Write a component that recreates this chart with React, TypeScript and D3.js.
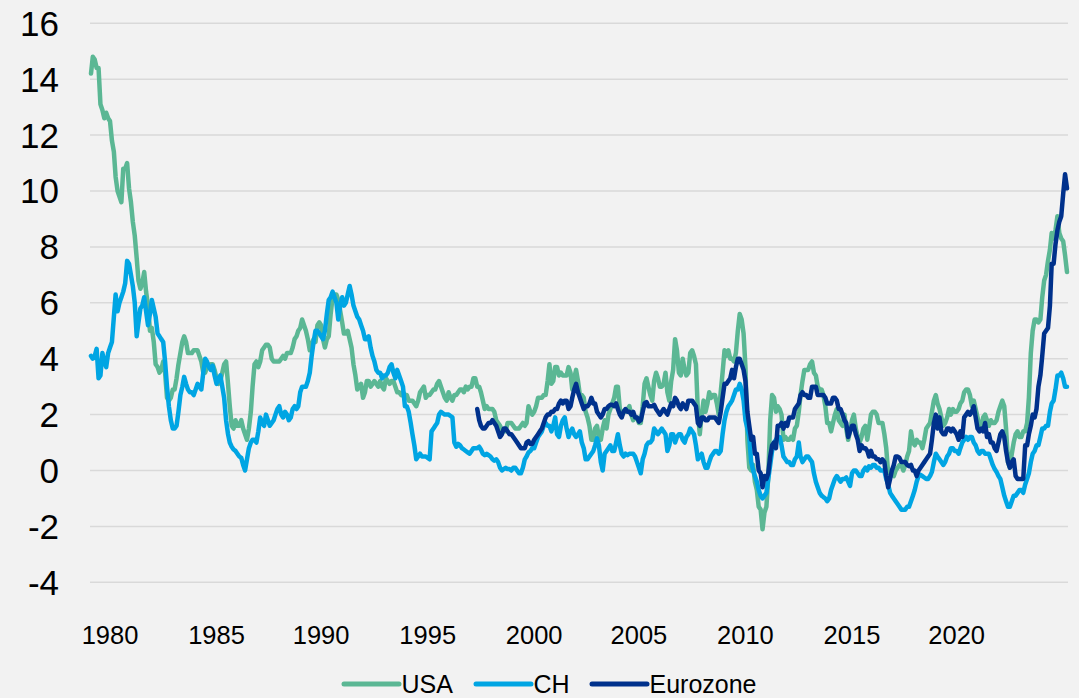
import React from "react";
import * as d3 from "d3";

// ---- Data (year-on-year inflation, %) ----
const seriesStart = "1980-02"; // first month of USA and CH
const euroStart = "1997-01"; // first month of Eurozone

const usa = [
  14.2, 14.8, 14.7, 14.4, 14.4, 13.1, 12.9, 12.6, 12.8, 12.6, 12.5,
  11.8, 11.4, 10.5, 10.0, 9.8, 9.6, 10.8, 10.8, 11.0, 10.1, 9.6, 8.9,
  8.4, 7.6, 6.8, 6.5, 6.7, 7.1, 6.4, 5.9, 5.0, 5.1, 4.6, 3.8,
  3.7, 3.5, 3.6, 3.9, 3.5, 2.6, 2.5, 2.6, 2.9, 2.9, 3.3, 3.8,
  4.2, 4.6, 4.8, 4.6, 4.2, 4.2, 4.2, 4.3, 4.3, 4.3, 4.1, 3.9,
  3.5, 3.5, 3.7, 3.7, 3.8, 3.8, 3.6, 3.3, 3.1, 3.2, 3.5, 3.8,
  3.9, 3.1, 2.3, 1.6, 1.5, 1.8, 1.6, 1.6, 1.8, 1.5, 1.3, 1.1,
  1.5, 2.1, 3.0, 3.8, 3.9, 3.7, 3.9, 4.3, 4.4, 4.5, 4.5, 4.4,
  4.0, 3.9, 3.9, 3.9, 3.9, 4.0, 4.1, 4.0, 4.2, 4.2, 4.2, 4.4,
  4.7, 4.8, 5.0, 5.1, 5.4, 5.2, 5.0, 4.7, 4.3, 4.5, 4.7, 4.6,
  5.2, 5.3, 5.2, 4.7, 4.4, 4.7, 4.8, 5.6, 6.2, 6.3, 6.3, 6.1,
  5.7, 5.3, 4.9, 4.9, 5.0, 4.7, 4.4, 3.8, 3.4, 2.9, 3.0, 3.1,
  2.6, 2.8, 3.2, 3.2, 3.0, 3.1, 3.2, 3.1, 3.0, 3.2, 3.0, 2.9,
  3.3, 3.2, 3.1, 3.2, 3.2, 3.0, 2.8, 2.8, 2.7, 2.8, 2.7, 2.7,
  2.5, 2.5, 2.5, 2.4, 2.3, 2.5, 2.8, 2.9, 3.0, 2.6, 2.7, 2.7,
  2.8, 2.9, 2.9, 3.1, 3.2, 3.0, 2.8, 2.6, 2.5, 2.8, 2.6, 2.5,
  2.7, 2.7, 2.8, 2.9, 2.9, 2.8, 3.0, 2.9, 3.0, 3.0, 3.3, 3.3,
  3.0, 3.0, 2.8, 2.5, 2.2, 2.3, 2.2, 2.2, 2.2, 2.1, 1.8, 1.7,
  1.6, 1.4, 1.4, 1.4, 1.7, 1.7, 1.7, 1.6, 1.5, 1.5, 1.5, 1.6,
  1.7, 1.6, 1.7, 2.3, 2.1, 2.0, 2.1, 2.3, 2.6, 2.6, 2.6, 2.7,
  2.7, 3.2, 3.8, 3.1, 3.2, 3.7, 3.7, 3.4, 3.5, 3.4, 3.4, 3.4,
  3.7, 3.5, 2.9, 3.3, 3.6, 3.2, 2.7, 2.7, 2.6, 2.1, 1.9, 1.6,
  1.1, 1.1, 1.5, 1.6, 1.2, 1.1, 1.5, 1.8, 1.5, 2.0, 2.2, 2.4,
  2.6, 3.0, 3.0, 2.2, 2.1, 2.1, 2.1, 2.2, 2.3, 2.0, 1.8, 1.9,
  1.9, 1.7, 1.7, 2.3, 3.1, 3.3, 3.0, 2.7, 2.5, 3.2, 3.5, 3.3,
  3.0, 3.0, 3.1, 3.5, 2.8, 2.5, 3.2, 3.6, 4.7, 4.3, 3.5, 3.4,
  4.0, 3.6, 3.4, 3.5, 4.2, 4.3, 4.1, 3.8, 2.1, 1.3, 2.0, 2.5,
  2.1, 2.4, 2.8, 2.6, 2.7, 2.7, 2.4, 2.0, 2.8, 3.5, 4.3, 4.1,
  4.3, 4.0, 4.0, 3.9, 4.2, 5.0, 5.6, 5.4, 4.9, 3.7, 1.1, 0.1,
  0.0, 0.2, -0.4, -0.7, -1.3, -1.4, -2.1, -1.5, -1.3, -0.2, 1.8, 2.7,
  2.6, 2.1, 2.3, 2.2, 2.0, 1.1, 1.2, 1.1, 1.1, 1.2, 1.1, 1.5,
  1.6, 2.1, 2.7, 3.2, 3.6, 3.6, 3.6, 3.8, 3.9, 3.5, 3.4, 3.0,
  2.9, 2.9, 2.7, 2.3, 1.7, 1.7, 1.4, 1.7, 2.0, 2.2, 1.8, 1.7,
  1.6, 2.0, 1.5, 1.1, 1.4, 1.8, 2.0, 1.5, 1.2, 1.0, 1.2, 1.5,
  1.6, 1.1, 1.5, 2.0, 2.1, 2.1, 2.0, 1.7, 1.7, 1.7, 1.3, 0.8,
  -0.1, 0.0, -0.1, -0.2, 0.0, 0.1, 0.2, 0.2, 0.0, 0.2, 0.5, 0.7,
  1.4, 1.0, 0.9, 1.1, 1.0, 1.0, 0.8, 1.1, 1.5, 1.6, 1.7, 2.1,
  2.5, 2.7, 2.4, 2.2, 1.9, 1.6, 1.7, 1.9, 2.2, 2.0, 2.2, 2.1,
  2.1, 2.2, 2.4, 2.5, 2.8, 2.9, 2.9, 2.7, 2.3, 2.5, 2.2, 1.9,
  1.6, 1.5, 1.9, 2.0, 1.8, 1.6, 1.8, 1.7, 1.7, 1.8, 2.1, 2.3,
  2.5, 2.3, 1.5, 0.3, 0.1, 0.6, 1.0, 1.3, 1.4, 1.2, 1.2, 1.4,
  1.4, 1.7, 2.6, 4.2, 5.0, 5.4, 5.4, 5.3, 5.4, 6.2, 6.8, 7.0,
  7.5, 7.9, 8.5, 8.3, 8.6, 9.1, 8.5, 8.3, 8.2, 7.7, 7.1,
];

const ch = [
  4.1, 4.0, 4.1, 4.35, 3.3, 3.4, 4.2, 3.9, 3.7, 4.2, 4.4,
  4.6, 5.5, 6.3, 5.7, 6.0, 6.2, 6.4, 6.7, 7.5, 7.4, 7.0, 6.6,
  6.0, 4.8, 5.3, 5.8, 5.9, 6.2, 5.7, 5.2, 5.6, 6.1, 5.8, 5.5,
  4.9, 4.8, 4.7, 4.6, 3.9, 3.0, 2.3, 1.8, 1.5, 1.5, 1.6, 2.1,
  2.7, 3.0, 3.35, 3.1, 2.9, 2.8, 2.8, 2.7, 2.9, 3.1, 3.0, 2.9,
  3.5, 4.0, 3.9, 3.7, 3.6, 3.75, 3.4, 3.1, 3.3, 3.4, 3.0, 2.6,
  1.8, 1.3, 1.0, 0.85, 0.75, 0.7, 0.6, 0.5, 0.45, 0.2, 0.0, 0.4,
  0.8, 1.0, 1.1, 1.1, 1.0, 1.4, 1.9, 1.7, 1.6, 2.0, 1.8, 1.6,
  1.7, 1.8, 2.0, 2.2, 2.3, 2.0, 1.9, 2.1, 2.0, 1.8, 1.9, 2.2,
  2.3, 2.2, 2.3, 2.8, 3.0, 3.0, 3.0, 3.2, 3.5, 4.1, 4.6, 5.0,
  5.0, 4.9, 4.8, 4.7, 5.0, 5.6, 6.1, 6.2, 6.4, 6.2, 6.0, 5.4,
  5.9, 6.2, 5.9, 6.0, 6.3, 6.6, 6.3, 5.9, 5.7, 5.5, 5.4, 5.2,
  5.0, 4.7, 4.7, 4.8, 4.4, 4.1, 3.9, 3.6, 3.5, 3.5, 3.3, 3.4,
  3.4, 3.5, 3.7, 3.8, 3.5, 3.3, 3.6, 3.4, 3.2, 3.0, 2.3, 2.3,
  2.1, 1.7, 1.3, 0.9, 0.4, 0.5, 0.6, 0.5, 0.5, 0.5, 0.45, 0.4,
  1.4, 1.5, 1.6, 1.7, 2.0, 2.1, 2.05, 2.0, 2.0, 2.0, 1.95, 1.9,
  1.0, 0.85, 0.95, 0.9, 0.8, 0.75, 0.7, 0.65, 0.6, 0.7, 0.8, 0.8,
  0.8, 0.85, 0.75, 0.6, 0.55, 0.6, 0.55, 0.5, 0.4, 0.35, 0.4, 0.3,
  0.1, 0.0, 0.05, 0.1, 0.05, 0.05, 0.0, 0.1, 0.1, 0.0, -0.1, -0.1,
  0.1, 0.4, 0.5, 0.65, 0.7, 0.8, 0.8, 1.0, 1.2, 1.3, 1.4, 1.6,
  1.7, 1.6, 1.6, 1.4, 1.6, 1.9, 1.3, 1.2, 1.6, 1.8, 1.9, 1.5,
  1.2, 1.4, 1.5, 1.3, 1.2, 1.3, 1.4, 1.0, 0.8, 0.4, 0.4, 0.5,
  0.6, 0.7, 0.9, 1.15, 0.9, 0.3, 0.0, 0.6, 0.7, 0.8, 0.9, 0.7,
  0.7, 1.0, 1.3, 0.9, 0.6, 0.5, 0.6, 0.55, 0.6, 0.6, 0.6, 0.5,
  0.3, 0.1, -0.1, 0.4, 0.6, 0.9, 1.0, 1.0, 1.1, 1.5, 1.4, 1.3,
  1.4, 1.5, 1.4, 1.3, 0.7, 0.9, 1.3, 1.3, 1.0, 1.2, 1.3, 1.3,
  1.1, 1.0, 1.2, 1.3, 1.5, 1.4, 1.3, 0.9, 0.4, 0.5, 0.6, 0.3,
  0.1, 0.1, 0.3, 0.5, 0.6, 0.7, 0.7, 0.6, 0.7, 1.3, 1.8, 2.1,
  2.3, 2.4, 2.5, 2.7, 2.9, 2.9, 3.1, 2.9, 2.5, 1.8, 1.5, 1.2,
  0.3, 0.0, -0.2, -0.4, -0.7, -0.9, -1.0, -0.9, -0.8, -0.3, 0.2, 0.7,
  1.0, 1.1, 1.2, 1.2, 0.9, 0.5, 0.4, 0.3, 0.3, 0.2, 0.2, 0.4,
  0.5, 1.0, 0.5, 0.3, 0.4, 0.5, 0.5, 0.4, 0.3, -0.1, -0.4, -0.6,
  -0.8, -0.9, -0.95, -1.0, -1.1, -1.0, -0.7, -0.5, -0.3, -0.2, -0.3, -0.4,
  -0.3, -0.3, -0.25, -0.4, -0.55, -0.1, 0.0, 0.0, -0.1, -0.2, -0.2, 0.0,
  0.1, 0.0, 0.15, 0.1, 0.2, 0.2, 0.1, 0.1, 0.0, 0.0, 0.0, -0.3,
  -0.5, -0.8, -0.9, -1.0, -1.1, -1.2, -1.3, -1.4, -1.4, -1.4, -1.3, -1.3,
  -1.1, -0.9, -0.7, -0.4, -0.2, -0.15, -0.2, -0.25, -0.3, -0.3, -0.2, -0.05,
  0.3, 0.6, 0.5, 0.4, 0.3, 0.2, 0.3, 0.5, 0.6, 0.8, 0.8, 0.7,
  0.7, 0.6, 0.8, 1.0, 1.1, 1.2, 1.1, 1.2, 1.2, 1.0, 0.9, 0.7,
  0.6, 0.7, 0.7, 0.6, 0.6, 0.6, 0.4, 0.2, 0.05, -0.05, -0.2, -0.3,
  -0.6, -0.9, -1.1, -1.3, -1.3, -1.1, -0.9, -0.9, -0.8, -0.7, -0.7, -0.8,
  -0.5, -0.3, -0.1, 0.3, 0.6, 0.7, 0.9, 0.9, 1.2, 1.5, 1.5, 1.6,
  1.6, 2.1, 2.4, 2.5, 2.9, 3.4, 3.4, 3.5, 3.3, 3.0, 3.0,
];

const eurozone = [
  2.2, 1.8, 1.6, 1.5, 1.5, 1.6, 1.7, 1.7, 1.8, 1.7, 1.6, 1.4,
  1.2, 1.3, 1.5, 1.5, 1.4, 1.3, 1.3, 1.2, 1.1, 1.0, 0.9, 0.8,
  0.8, 0.8, 1.0, 1.05, 0.95, 0.95, 1.1, 1.2, 1.3, 1.4, 1.5, 1.7,
  1.9, 2.0, 2.0, 2.1, 2.1, 2.2, 2.2, 2.4, 2.5, 2.4, 2.5, 2.5,
  2.2, 2.3, 2.6, 2.9, 3.1, 2.8, 2.6, 2.4, 2.2, 2.3, 2.3, 2.4,
  2.6, 2.4, 2.4, 2.1, 2.0, 1.9, 2.0, 2.2, 2.2, 2.3, 2.35, 2.35,
  2.3, 2.4, 2.2, 2.0, 1.9, 2.1, 2.2, 2.1, 2.1, 2.0, 2.1, 1.9,
  1.9, 1.75, 1.8, 2.1, 2.4, 2.45, 2.3, 2.3, 2.3, 2.35, 2.2, 2.1,
  2.0, 2.1, 2.2, 2.1, 2.0, 2.2, 2.4, 2.3, 2.6, 2.5, 2.3, 2.2,
  2.4, 2.3, 2.2, 2.5, 2.5, 2.5, 2.4, 2.3, 1.7, 1.6, 1.9, 1.9,
  1.8, 1.8, 1.9, 1.9, 1.9, 1.9, 1.8, 1.7, 2.1, 2.6, 3.1, 3.1,
  3.2, 3.3, 3.6, 3.3, 3.7, 4.0, 4.0, 3.8, 3.6, 3.2, 2.1, 1.6,
  1.1, 1.2, 0.6, 0.6, 0.0, -0.1, -0.6, -0.2, -0.3, -0.1, 0.5, 0.9,
  1.0, 0.8, 1.6, 1.6, 1.7, 1.5, 1.7, 1.6, 1.9, 1.9, 1.9, 2.2,
  2.3, 2.4, 2.7, 2.8, 2.7, 2.7, 2.6, 2.6, 3.0, 3.0, 3.0, 2.7,
  2.7, 2.7, 2.7, 2.6, 2.4, 2.4, 2.4, 2.6, 2.6, 2.5, 2.2, 2.2,
  2.0, 1.8, 1.7, 1.2, 1.4, 1.6, 1.6, 1.3, 1.1, 0.7, 0.9, 0.8,
  0.8, 0.7, 0.5, 0.7, 0.5, 0.5, 0.4, 0.4, 0.3, 0.4, 0.3, -0.2,
  -0.6, -0.3, 0.0, 0.2, 0.5, 0.5, 0.45, 0.3, 0.3, 0.3, 0.2, 0.15,
  0.2, 0.0, 0.0, -0.2, 0.0, 0.1, 0.2, 0.3, 0.4, 0.5, 0.6, 1.1,
  1.7, 2.0, 1.5, 1.9, 1.4, 1.3, 1.3, 1.5, 1.5, 1.4, 1.5, 1.4,
  1.3, 1.1, 1.4, 1.2, 1.9, 2.0, 2.1, 2.0, 2.1, 2.3, 1.9, 1.5,
  1.4, 1.5, 1.4, 1.7, 1.2, 1.3, 1.0, 1.0, 0.8, 0.7, 1.0, 1.3,
  1.4, 1.2, 0.7, 0.3, 0.1, 0.3, 0.4, -0.2, -0.3, -0.3, -0.3, -0.3,
  0.9, 0.9, 1.3, 1.6, 2.0, 1.9, 2.2, 3.0, 3.4, 4.1, 4.9, 5.0,
  5.1, 5.9, 7.4, 7.4, 8.1, 8.6, 8.9, 9.1, 9.9, 10.6, 10.1,
];

const yTickValues = [-4, -2, 0, 2, 4, 6, 8, 10, 12, 14, 16];
const xTickLabels = ["1980", "1985", "1990", "1995", "2000", "2005", "2010", "2015", "2020"];
const xTickMonths = ["1980-12", "1985-08", "1990-03", "1994-11", "1999-07", "2004-02", "2008-10", "2013-06", "2018-01"];

const seriesNames = ["USA", "CH", "Eurozone"];
const seriesColors = ["#5BB794", "#00A5E3", "#00318C"];

// ---- helpers ----
const parseMonth = d3.timeParse("%Y-%m");
const toPoints = (values: number[], start: string) => {
  const s = parseMonth(start) as Date;
  return values.map((v, i) => ({ date: d3.timeMonth.offset(s, i), value: v }));
};

export default function App() {
  const W = 1079;
  const H = 698;
  const font = "'Liberation Sans', Arial, sans-serif";

  const series = [
    toPoints(usa, seriesStart),
    toPoints(ch, seriesStart),
    toPoints(eurozone, euroStart),
  ];
  const allDates = series.flat().map((d) => d.date);
  const x = d3
    .scaleTime()
    .domain(d3.extent(allDates) as [Date, Date])
    .range([91, 1067]);
  const y = d3.scaleLinear().domain([-4, 16]).range([582.3, 23.3]);

  const line = d3
    .line<{ date: Date; value: number }>()
    .x((d) => x(d.date))
    .y((d) => y(d.value));

  const legendX = [344, 476, 592];

  return (
    <svg
      width={W}
      height={H}
      style={{ position: "absolute", left: 0, top: 0, display: "block" }}
      fontFamily={font}
    >
      <rect x={0} y={0} width={W} height={H} fill="#F2F2F2" />
      {yTickValues.map((t) => (
        <g key={t}>
          <line x1={90} x2={1068} y1={y(t)} y2={y(t)} stroke="#D9D9D9" strokeWidth={1.5} />
          <text x={59} y={y(t) + 12.4} textAnchor="end" fontSize={35} fill="#000">
            {t}
          </text>
        </g>
      ))}
      {xTickLabels.map((lab, i) => (
        <text
          key={lab}
          x={x(parseMonth(xTickMonths[i]) as Date)}
          y={644}
          textAnchor="middle"
          fontSize={25.5}
          fill="#000"
        >
          {lab}
        </text>
      ))}
      {series.map((pts, i) => (
        <path
          key={seriesNames[i]}
          d={line(pts) || ""}
          fill="none"
          stroke={seriesColors[i]}
          strokeWidth={4.5}
          strokeLinejoin="round"
          strokeLinecap="round"
        />
      ))}
      {seriesNames.map((name, i) => (
        <g key={name}>
          <line
            x1={legendX[i]}
            x2={legendX[i] + 55}
            y1={684}
            y2={684}
            stroke={seriesColors[i]}
            strokeWidth={5}
            strokeLinecap="round"
          />
          <text x={legendX[i] + 57.5} y={692.5} fontSize={25} fill="#000">
            {name}
          </text>
        </g>
      ))}
    </svg>
  );
}
